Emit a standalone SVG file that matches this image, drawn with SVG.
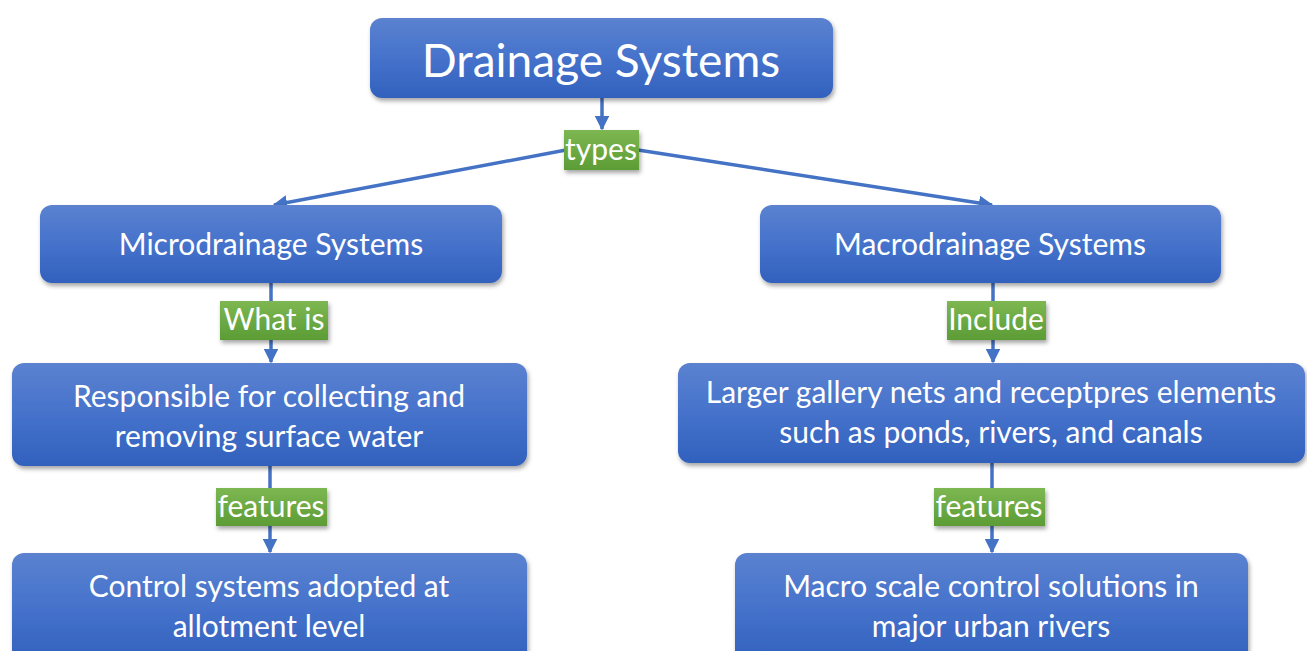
<svg xmlns="http://www.w3.org/2000/svg" width="1307" height="651" viewBox="0 0 1307 651">
  <defs>
    <linearGradient id="boxFill" x1="0" y1="0" x2="0" y2="1">
      <stop offset="0" stop-color="#5b82d0"/>
      <stop offset="0.5" stop-color="#4572cb"/>
      <stop offset="1" stop-color="#3161bd"/>
    </linearGradient>
    <linearGradient id="tagFill" x1="0" y1="0" x2="0" y2="1">
      <stop offset="0" stop-color="#7db752"/>
      <stop offset="1" stop-color="#5c9c35"/>
    </linearGradient>
    <filter id="shadow" x="-10%" y="-20%" width="120%" height="150%">
      <feDropShadow dx="1.5" dy="3" stdDeviation="2.2" flood-color="#000" flood-opacity="0.35"/>
    </filter>
    <marker id="arrow" viewBox="0 0 10 10" refX="9" refY="5" markerWidth="4.2" markerHeight="4.2" markerUnits="strokeWidth" orient="auto">
      <path d="M0,0 L10,5 L0,10 Z" fill="#4472c4"/>
    </marker>
  </defs>
  <style>
    .box { fill: url(#boxFill); filter: url(#shadow); }
    .tag { fill: url(#tagFill); filter: url(#shadow); }
    .txt { fill: #ffffff; font-family: Lato, "Open Sans", "Liberation Sans", sans-serif; text-anchor: middle; }
    .big { font-size: 46px; }
    .mid { font-size: 30px; }
    .lbl { font-size: 30px; }
    .link { stroke: #4472c4; stroke-width: 3.5; fill: none; }
  </style>
  <rect width="1307" height="651" fill="#ffffff"/>

  <!-- connectors -->
  <g id="connectors">
    <line class="link" x1="602" y1="98" x2="602" y2="129" marker-end="url(#arrow)"/>
    <line class="link" x1="566" y1="150" x2="274" y2="205" marker-end="url(#arrow)"/>
    <line class="link" x1="638" y1="150" x2="992" y2="205" marker-end="url(#arrow)"/>
    <line class="link" x1="271" y1="283" x2="271" y2="362" marker-end="url(#arrow)"/>
    <line class="link" x1="993" y1="283" x2="993" y2="362" marker-end="url(#arrow)"/>
    <line class="link" x1="270" y1="466" x2="270" y2="552" marker-end="url(#arrow)"/>
    <line class="link" x1="992" y1="463" x2="992" y2="552" marker-end="url(#arrow)"/>
  </g>

  <!-- nodes -->
  <g id="drainage-systems">
    <rect class="box" x="370" y="18" width="463" height="80" rx="12"/>
    <text class="txt big" x="601" y="77">Drainage Systems</text>
  </g>

  <g id="microdrainage">
    <rect class="box" x="40" y="205" width="462" height="78" rx="12"/>
    <text class="txt mid" x="271" y="255">Microdrainage Systems</text>
  </g>

  <g id="macrodrainage">
    <rect class="box" x="760" y="205" width="461" height="78" rx="12"/>
    <text class="txt mid" x="990" y="255">Macrodrainage Systems</text>
  </g>

  <g id="micro-definition">
    <rect class="box" x="12" y="363" width="515" height="103" rx="12"/>
    <text class="txt mid" x="269" y="407">Responsible for collecting and</text>
    <text class="txt mid" x="269" y="447">removing surface water</text>
  </g>

  <g id="macro-elements">
    <rect class="box" x="678" y="363" width="627" height="100" rx="12"/>
    <text class="txt mid" x="991" y="403">Larger gallery nets and receptpres elements</text>
    <text class="txt mid" x="991" y="443">such as ponds, rivers, and canals</text>
  </g>

  <g id="micro-feature">
    <rect class="box" x="12" y="553" width="515" height="110" rx="12"/>
    <text class="txt mid" x="269" y="597">Control systems adopted at</text>
    <text class="txt mid" x="269" y="637">allotment level</text>
  </g>

  <g id="macro-feature">
    <rect class="box" x="735" y="553" width="513" height="110" rx="12"/>
    <text class="txt mid" x="991" y="597">Macro scale control solutions in</text>
    <text class="txt mid" x="991" y="637">major urban rivers</text>
  </g>

  <!-- connector labels -->
  <g id="label-types">
    <rect class="tag" x="564" y="130" width="75" height="40"/>
    <text class="txt lbl" x="601" y="160">types</text>
  </g>
  <g id="label-what-is">
    <rect class="tag" x="220" y="301" width="108" height="39"/>
    <text class="txt lbl" x="274" y="330">What is</text>
  </g>
  <g id="label-include">
    <rect class="tag" x="947" y="301" width="99" height="39"/>
    <text class="txt lbl" x="996" y="330">Include</text>
  </g>
  <g id="label-features-left">
    <rect class="tag" x="216" y="488" width="111" height="38"/>
    <text class="txt lbl" x="271" y="517">features</text>
  </g>
  <g id="label-features-right">
    <rect class="tag" x="934" y="488" width="111" height="38"/>
    <text class="txt lbl" x="989" y="517">features</text>
  </g>
</svg>
